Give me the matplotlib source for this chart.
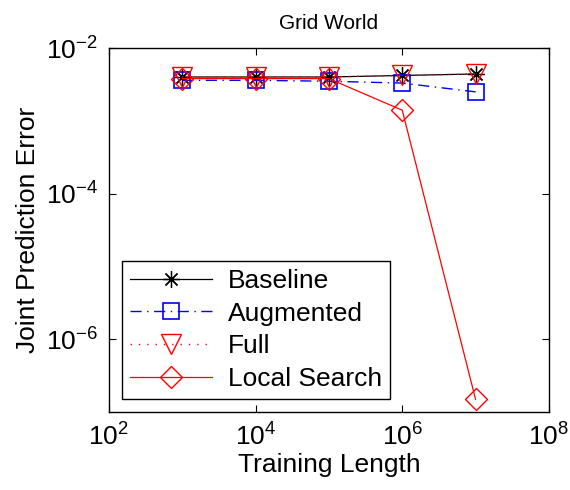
import matplotlib.pyplot as plt
import numpy as np

plt.rcParams['font.family'] = ['Liberation Sans', 'DejaVu Sans']

length = [1e3, 1e4, 1e5, 1e6, 1e7]
baseline = [0.0040, 0.0040, 0.0040, 0.0042, 0.0044]
augmented = [0.0036, 0.0036, 0.0035, 0.0033, 0.0025]
full = [0.0040, 0.0040, 0.0040, 0.0042, 0.0044]
local_search = [0.0038, 0.0038, 0.0038, 0.0014, 1.5e-7]

fig = plt.figure(figsize=(5.7, 4.9), dpi=100)
ax = fig.add_axes([0.191, 0.159, 0.772, 0.743])

ax.loglog(length, baseline, 'k-', lw=0.9, marker=(8, 2, 0), ms=12, mew=0.9, label='Baseline')
ax.loglog(length, augmented, 'b', ls=(0, (8, 4, 1, 4)), lw=1, marker='s', ms=11, mfc='none',
          mew=1.2, label='Augmented')
ax.loglog(length, full, 'r', ls=(0, (1, 5)), lw=1, marker='v', ms=14, mfc='none', mew=1, label='Full')
ax.loglog(length, local_search, 'r-', lw=0.9, marker='D', ms=11, mfc='none', mew=1, label='Local Search')

ax.set_xlim(1e2, 1e8)
ax.set_ylim(1e-7, 1e-2)
ax.set_xticks([1e2, 1e4, 1e6, 1e8])
ax.set_yticks([1e-6, 1e-4, 1e-2])
ax.minorticks_off()
ax.tick_params(direction='in', labelsize=19, length=5, top=True, right=True, pad=8)
ax.set_xticklabels([r'$\mathregular{10^{%d}}$' % e for e in [2, 4, 6, 8]])
ax.set_yticklabels([r'$\mathregular{10^{%d}}$' % e for e in [-6, -4, -2]])
for s in ax.spines.values():
    s.set_linewidth(1)

ax.set_xlabel('Training Length', fontsize=19, labelpad=2)
ax.set_ylabel('Joint Prediction Error', fontsize=19)
ax.set_title('Grid World', fontsize=15, pad=14)

leg = ax.legend(loc='lower left', fontsize=19, fancybox=False, edgecolor='k',
                framealpha=1, borderpad=0.3, handlelength=3.1, labelspacing=0.33,
                borderaxespad=0.5, handletextpad=0.6)
leg.get_frame().set_linewidth(1)

fig.savefig('out.png')
